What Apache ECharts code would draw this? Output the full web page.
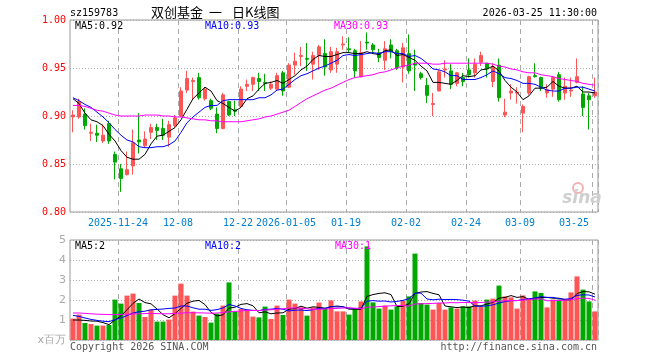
<!DOCTYPE html>
<html><head><meta charset="utf-8">
<script src="https://cdn.jsdelivr.net/npm/echarts@6/dist/echarts.min.js"></script>
<style>html,body{margin:0;padding:0;background:#fff}#c{width:660px;height:360px}</style>
</head><body><div id="c"></div>
<script>
const dates = ['2025-11-12','2025-11-13','2025-11-14','2025-11-17','2025-11-18','2025-11-19','2025-11-20','2025-11-21','2025-11-24','2025-11-25',
'2025-11-26','2025-11-27','2025-11-28','2025-12-01','2025-12-02','2025-12-03','2025-12-04','2025-12-05','2025-12-08','2025-12-09',
'2025-12-10','2025-12-11','2025-12-12','2025-12-15','2025-12-16','2025-12-17','2025-12-18','2025-12-19','2025-12-22','2025-12-23',
'2025-12-24','2025-12-25','2025-12-26','2025-12-29','2025-12-30','2025-12-31','2026-01-05','2026-01-06','2026-01-07','2026-01-08',
'2026-01-09','2026-01-12','2026-01-13','2026-01-14','2026-01-15','2026-01-16','2026-01-19','2026-01-20','2026-01-21','2026-01-22',
'2026-01-23','2026-01-26','2026-01-27','2026-01-28','2026-01-29','2026-01-30','2026-02-02','2026-02-03','2026-02-04','2026-02-05',
'2026-02-06','2026-02-09','2026-02-10','2026-02-11','2026-02-12','2026-02-13','2026-02-24','2026-02-25','2026-02-26','2026-02-27',
'2026-03-02','2026-03-03','2026-03-04','2026-03-05','2026-03-06','2026-03-09','2026-03-10','2026-03-11','2026-03-12','2026-03-13',
'2026-03-16','2026-03-17','2026-03-18','2026-03-19','2026-03-20','2026-03-23','2026-03-24','2026-03-25'];
const tickDates = ['2025-11-24','2025-12-08','2025-12-22','2026-01-05','2026-01-19','2026-02-02','2026-02-24','2026-03-09','2026-03-25'];
const tickLabels = ['2025-11-24','12-08','12-22','2026-01-05','01-19','02-02','02-24','03-09','03-25'];

const open = [.899,.899,.902,.882,.882,.874,.892,.860,.845,.839, .848,.875,.869,.883,.888,.887,.878,.890,.900,.927,
.936,.940,.918,.916,.902,.887,.915,.9065,.910,.931, .933,.939,.935,.929,.928,.945,.930,.953,.962,.960,
.954,.963,.965,.948,.954,.974,.970,.968,.941,.977, .974,.966,.958,.974,.968,.951,.965,.955,.944,.932,
.912,.926,.948,.947,.934,.940,.948,.945,.956,.955, .936,.953,.901,.924,.924,.903,.924,.942,.940,.924,
.928,.943,.924,.926,.935,.923,.921,.921];
const close = [.901,.915,.890,.883,.880,.880,.874,.852,.835,.844, .872,.873,.876,.888,.885,.880,.891,.898,.926,.939,
.937,.919,.928,.908,.887,.922,.901,.905,.928,.933, .940,.936,.934,.933,.942,.926,.953,.957,.963,.959,
.963,.972,.951,.967,.967,.975,.969,.947,.966,.976, .969,.961,.970,.967,.950,.971,.947,.953,.940,.9215,
.913,.946,.949,.933,.945,.936,.943,.954,.963,.949, .951,.919,.904,.926,.925,.910,.941,.941,.929,.9275,
.940,.917,.931,.927,.941,.909,.917,.925];
const low = [.883,.897,.886,.874,.873,.872,.871,.834,.821,.838, .839,.861,.867,.876,.875,.875,.868,.888,.899,.924,
.917,.917,.916,.906,.882,.886,.900,.900,.909,.926, .926,.926,.926,.927,.926,.921,.929,.943,.952,.947,
.938,.948,.942,.945,.945,.969,.966,.940,.940,.969, .966,.956,.948,.960,.948,.935,.944,.926,.938,.9135,
.900,.926,.940,.928,.931,.931,.940,.940,.952,.940, .930,.915,.899,.917,.913,.883,.922,.940,.926,.919,
.920,.915,.917,.920,.934,.900,.886,.919];
const high = [.906,.918,.908,.892,.891,.891,.895,.863,.850,.863, .886,.903,.884,.892,.892,.897,.895,.901,.930,.947,
.940,.945,.930,.918,.909,.924,.916,.916,.931,.938, .941,.945,.944,.936,.945,.947,.955,.966,.972,.976,
.967,.974,.980,.972,.971,.983,.982,.970,.978,.987, .976,.970,.978,.980,.970,.976,.985,.969,.946,.9396,
.924,.948,.958,.954,.946,.945,.960,.960,.967,.955, .955,.960,.918,.933,.930,.912,.942,.955,.941,.933,
.941,.946,.940,.940,.960,.931,.924,.940];

const ma5 = [.918,.913,.903,.896,.894,.890,.881,.874,.864,.857, .855,.855,.860,.871,.879,.880,.884,.888,.896,.907,
.918,.924,.930,.926,.916,.913,.909,.905,.909,.918, .921,.928,.934,.935,.937,.934,.938,.942,.948,.952,
.959,.963,.962,.962,.964,.966,.966,.965,.965,.967, .965,.964,.968,.969,.963,.964,.961,.958,.952,.947,
.935,.935,.934,.933,.937,.942,.941,.942,.948,.949, .952,.947,.937,.930,.925,.917,.921,.929,.929,.930,
.936,.931,.929,.929,.931,.925,.925,.924];
const ma10 = [.919,.916,.912,.909,.904,.899,.893,.886,.880,.875, .873,.868,.867,.867,.868,.868,.870,.874,.883,.893,
.899,.904,.909,.911,.911,.916,.917,.917,.917,.917, .917,.919,.919,.922,.927,.928,.933,.938,.942,.944,
.947,.950,.952,.955,.958,.963,.964,.963,.964,.965, .966,.965,.967,.967,.965,.965,.962,.963,.960,.955,
.949,.948,.946,.942,.942,.938,.938,.938,.940,.943, .947,.944,.940,.939,.937,.934,.934,.933,.930,.927,
.926,.926,.929,.929,.930,.930,.928,.926];
const ma30 = [.911,.911,.910,.908,.906,.905,.903,.901,.900,.900, .900,.900,.901,.901,.901,.900,.900,.899,.899,.898,
.897,.896,.896,.895,.895,.894,.894,.894,.894,.895, .896,.897,.899,.900,.902,.904,.906,.910,.914,.918,
.921,.924,.927,.929,.932,.935,.938,.940,.941,.942, .943,.945,.946,.948,.950,.952,.953,.955,.955,.955,
.954,.954,.955,.955,.955,.955,.955,.955,.955,.955, .954,.952,.951,.949,.948,.946,.945,.945,.943,.942,
.941,.939,.938,.937,.936,.934,.933,.932];

const vol = [1.07,1.27,0.85,0.80,0.72,0.72,0.75,2.02,1.82,2.22, 2.32,1.85,1.15,1.52,0.92,0.92,1.02,2.22,2.82,2.22,
1.42,1.22,1.15,0.87,1.32,1.72,2.88,1.42,1.55,1.52, 1.17,1.13,1.67,1.05,1.72,1.25,2.02,1.82,1.63,1.22,
1.63,1.87,1.60,1.98,1.43,1.43,1.27,1.60,1.93,4.68, 1.88,1.57,1.72,1.52,1.68,1.97,2.18,4.32,1.85,1.77,
1.52,1.85,1.52,1.63,1.57,1.68,1.68,1.97,1.65,2.02, 2.07,2.72,2.18,2.13,1.57,2.23,2.02,2.43,2.35,1.63,
2.02,2.02,2.02,2.38,3.18,2.52,1.93,1.43];
const volMa5 = [1.00,1.00,0.98,0.95,0.94,0.87,0.77,1.00,1.21,1.51, 1.83,2.05,1.87,1.81,1.55,1.27,1.11,1.32,1.58,1.84,
1.94,1.98,1.77,1.38,1.20,1.26,1.59,1.64,1.78,1.82, 1.71,1.36,1.41,1.31,1.35,1.36,1.54,1.57,1.69,1.59,
1.66,1.63,1.59,1.66,1.70,1.66,1.54,1.54,1.53,2.18, 2.27,2.33,2.36,2.27,1.67,1.69,1.81,2.33,2.40,2.42,
2.33,2.26,1.70,1.66,1.62,1.65,1.62,1.71,1.71,1.80, 1.88,2.09,2.13,2.22,2.13,2.17,2.03,2.08,2.12,2.13,
2.09,2.09,2.01,2.01,2.32,2.42,2.41,2.29];
const volMa10 = [1.23,1.18,1.10,1.03,0.98,0.94,0.92,1.02,1.10,1.22, 1.35,1.41,1.44,1.51,1.53,1.55,1.58,1.60,1.70,1.70,
1.61,1.54,1.54,1.48,1.52,1.60,1.78,1.70,1.58,1.51, 1.48,1.47,1.53,1.54,1.58,1.54,1.45,1.49,1.50,1.47,
1.51,1.59,1.58,1.67,1.65,1.66,1.59,1.57,1.60,1.94, 1.97,1.94,1.95,1.90,1.93,1.98,2.07,2.35,2.34,2.05,
2.01,2.04,2.02,2.03,2.02,1.99,1.94,1.70,1.68,1.71, 1.76,1.85,1.92,1.97,1.97,2.02,2.06,2.10,2.17,2.13,
2.13,2.06,2.04,2.07,2.23,2.26,2.25,2.15];
const volMa30 = [1.35,1.35,1.33,1.31,1.29,1.28,1.27,1.27,1.28,1.29, 1.30,1.31,1.32,1.33,1.32,1.31,1.31,1.33,1.35,1.36,
1.36,1.36,1.35,1.34,1.35,1.37,1.41,1.43,1.45,1.48, 1.48,1.47,1.50,1.51,1.54,1.56,1.60,1.60,1.59,1.56,
1.53,1.54,1.55,1.57,1.58,1.60,1.61,1.59,1.56,1.64, 1.65,1.67,1.69,1.71,1.72,1.73,1.70,1.80,1.81,1.82,
1.83,1.85,1.85,1.87,1.86,1.88,1.87,1.87,1.87,1.90, 1.91,1.94,1.96,1.97,1.97,2.00,2.02,2.05,2.06,1.96,
1.97,1.98,1.99,2.02,2.07,2.09,2.08,1.99];

const RED = '#ff5555', GREEN = '#00a800';
const MONO = '"DejaVu Sans Mono", "Liberation Mono", monospace';
const tickIdx = new Set(tickDates.map(d => dates.indexOf(d)));
const showTick = (i) => tickIdx.has(i);

const kData = dates.map((d, i) => [open[i], close[i], low[i], high[i]]);
const volData = vol.map((v, i) => ({ value: v, itemStyle: { color: close[i] >= open[i] ? RED : GREEN } }));

const dashV = { show: true, interval: showTick, lineStyle: { color: '#aaa', type: [5, 4], width: 1 } };
const dotH = { show: true, lineStyle: { color: '#aaa', type: [1, 2], width: 1 } };

function txt(text, x, y, color, opts) {
  return Object.assign({ type: 'text', x: x, y: y, silent: true, z: 100,
    style: Object.assign({ text: text, fill: color, font: '10px ' + MONO, align: 'left', verticalAlign: 'middle' }, opts || {}) });
}

const chart = echarts.init(document.getElementById('c'), null, { renderer: 'canvas' });
chart.setOption({
  animation: false,
  backgroundColor: '#fff',
  grid: [
    { left: 70, width: 528, top: 20, height: 192, show: true, borderColor: '#999', borderWidth: 1 },
    { left: 70, width: 528, top: 240, height: 100, show: true, borderColor: '#999', borderWidth: 1 }
  ],
  xAxis: [
    { type: 'category', gridIndex: 0, data: dates, boundaryGap: true,
      axisLine: { show: false }, axisTick: { show: false },
      axisLabel: { interval: showTick, formatter: v => tickLabels[tickDates.indexOf(v)], color: '#0080d0',
        fontFamily: MONO, fontSize: 10, margin: 6, padding: [0, 6, 0, 0], alignMaxLabel: 'right' },
      splitLine: dashV },
    { type: 'category', gridIndex: 1, data: dates, boundaryGap: true,
      axisLine: { show: false }, axisTick: { show: false }, axisLabel: { show: false },
      splitLine: dashV }
  ],
  yAxis: [
    { type: 'value', gridIndex: 0, min: 0.8, max: 1.0, interval: 0.05,
      axisLine: { show: false }, axisTick: { show: false },
      axisLabel: { color: '#ff0000', fontFamily: MONO, fontSize: 10, margin: 4, padding: [2, 0, 0, 0], formatter: v => v.toFixed(2) },
      splitLine: dotH },
    { type: 'value', gridIndex: 1, min: 0, max: 5, interval: 1,
      axisLine: { show: false }, axisTick: { show: false },
      axisLabel: { color: '#aaa', fontFamily: '"DejaVu Sans", sans-serif', fontSize: 11, margin: 4,
        formatter: v => v === 0 ? 'x百万' : String(v) },
      splitLine: dotH }
  ],
  series: [
    { type: 'candlestick', xAxisIndex: 0, yAxisIndex: 0, data: kData, barWidth: 4,
      itemStyle: { color: RED, color0: GREEN, borderColor: RED, borderColor0: GREEN, borderWidth: 1 }, silent: true },
    { type: 'line', xAxisIndex: 0, yAxisIndex: 0, data: ma5, symbol: 'none', lineStyle: { color: '#000', width: 1 }, silent: true },
    { type: 'line', xAxisIndex: 0, yAxisIndex: 0, data: ma10, symbol: 'none', lineStyle: { color: '#0000ff', width: 1 }, silent: true },
    { type: 'line', xAxisIndex: 0, yAxisIndex: 0, data: ma30, symbol: 'none', lineStyle: { color: '#ff00ff', width: 1 }, silent: true },
    { type: 'bar', xAxisIndex: 1, yAxisIndex: 1, data: volData, barWidth: 5, silent: true },
    { type: 'line', xAxisIndex: 1, yAxisIndex: 1, data: volMa5, symbol: 'none', lineStyle: { color: '#000', width: 1 }, silent: true },
    { type: 'line', xAxisIndex: 1, yAxisIndex: 1, data: volMa10, symbol: 'none', lineStyle: { color: '#0000ff', width: 1 }, silent: true },
    { type: 'line', xAxisIndex: 1, yAxisIndex: 1, data: volMa30, symbol: 'none', lineStyle: { color: '#ff00ff', width: 1 }, silent: true }
  ],
  graphic: [
    txt('sz159783', 70, 13, '#000'),
    txt('双创基金', 151, 12, '#000', { font: '13px "Noto Sans CJK SC"' }),
    txt('一', 209, 12, '#000', { font: '13px "Noto Sans CJK SC"' }),
    txt('日K线图', 232, 12, '#000', { font: '13px "Noto Sans CJK SC"' }),
    txt('2026-03-25 11:30:00', 597, 13, '#000', { align: 'right' }),
    txt('MA5:0.92', 75, 26, '#000'),
    txt('MA10:0.93', 205, 26, '#0000ff'),
    txt('MA30:0.93', 334, 26, '#ff00ff'),
    txt('MA5:2', 75, 246, '#000'),
    txt('MA10:2', 205, 246, '#0000ff'),
    txt('MA30:1', 335, 246, '#ff00ff'),
    txt('Copyright 2026 SINA.COM', 70, 347, '#555'),
    txt('http://finance.sina.com.cn', 597, 347, '#555', { align: 'right' }),
    { type: 'circle', shape: { cx: 578, cy: 188, r: 5 }, style: { fill: 'none', stroke: '#f2b3b3', lineWidth: 2 }, silent: true, z: 50 },
    txt('sina', 582, 199, '#cfcfcf', { font: 'italic bold 17px "DejaVu Sans"', align: 'center' })
  ]
});
</script>
</body></html>
